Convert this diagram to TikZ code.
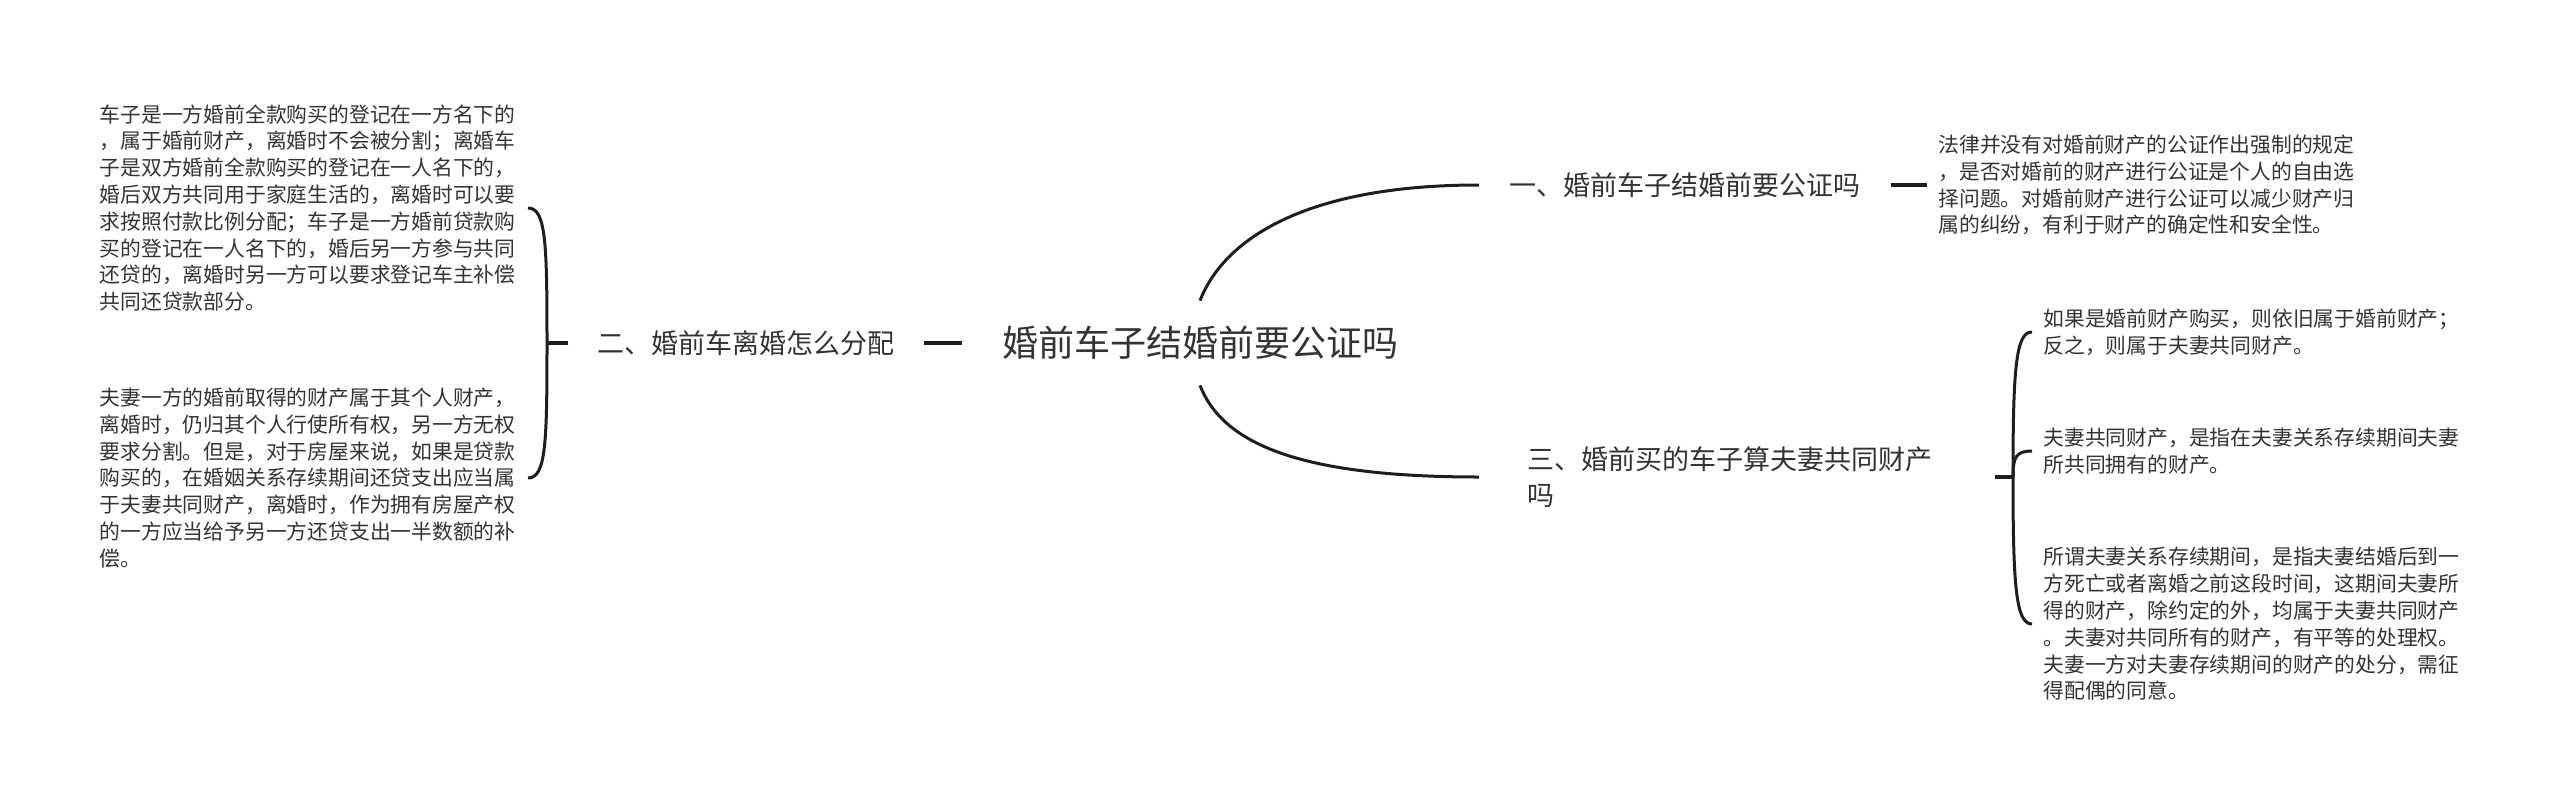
\documentclass[tikz,border=0pt]{standalone}
\usepackage{fontspec}
\setmainfont{Noto Sans CJK SC}
\usepackage{tikz}
\definecolor{inkc}{HTML}{333333}
\definecolor{linec}{HTML}{1E1E1E}

\begin{document}
\begin{tikzpicture}[x=0.5pt, y=-0.5pt,
  link/.style={linec, line width=1.5pt},
  tick/.style={linec, line width=2pt},
  topic/.style={inner xsep=15pt, inner ysep=0pt, text=inkc, align=left,
    font=\fontsize{13.5pt}{18pt}\selectfont},
  note/.style={inner xsep=5.5pt, inner ysep=0pt, text=inkc, align=left,
    font=\fontsize{10.4pt}{13.4pt}\selectfont}]
  \useasboundingbox (0,0) rectangle (2560,804);

  % centre
  \node[inner xsep=20pt, inner ysep=0pt, minimum height=42pt, text=inkc,
    font=\fontsize{18pt}{22pt}\selectfont] (root) at (1200,343) {婚前车子结婚前要公证吗};

  % branches
  \node[topic, anchor=west] (b1) at (1479,185) {一、婚前车子结婚前要公证吗};
  \node[topic, anchor=east, inner xsep=14.5pt] (b2) at (924,343) {二、婚前车离婚怎么分配};
  \node[topic, anchor=west, inner xsep=24pt] (b3) at (1479,477) {三、婚前买的车子算夫妻共同财产\\吗};
  \coordinate (jl) at (547,343);
  \coordinate (jr) at (2013,477);

  % notes
  \node[note, anchor=west] (leaf1) at (1927,185) {法律并没有对婚前财产的公证作出强制的规定\\，是否对婚前的财产进行公证是个人的自由选\\择问题。对婚前财产进行公证可以减少财产归\\属的纠纷，有利于财产的确定性和安全性。};
  \node[note, anchor=east, inner xsep=6pt] (l1) at (528,208) {车子是一方婚前全款购买的登记在一方名下的\\，属于婚前财产，离婚时不会被分割；离婚车\\子是双方婚前全款购买的登记在一人名下的，\\婚后双方共同用于家庭生活的，离婚时可以要\\求按照付款比例分配；车子是一方婚前贷款购\\买的登记在一人名下的，婚后另一方参与共同\\还贷的，离婚时另一方可以要求登记车主补偿\\共同还贷款部分。};
  \node[note, anchor=east, inner xsep=6pt] (l2) at (528,478) {夫妻一方的婚前取得的财产属于其个人财产，\\离婚时，仍归其个人行使所有权，另一方无权\\要求分割。但是，对于房屋来说，如果是贷款\\购买的，在婚姻关系存续期间还贷支出应当属\\于夫妻共同财产，离婚时，作为拥有房屋产权\\的一方应当给予另一方还贷支出一半数额的补\\偿。};
  \node[note, anchor=west] (r1) at (2032,332) {如果是婚前财产购买，则依旧属于婚前财产；\\反之，则属于夫妻共同财产。};
  \node[note, anchor=west] (r2) at (2032,451) {夫妻共同财产，是指在夫妻关系存续期间夫妻\\所共同拥有的财产。};
  \node[note, anchor=west] (r3) at (2032,624) {所谓夫妻关系存续期间，是指夫妻结婚后到一\\方死亡或者离婚之前这段时间，这期间夫妻所\\得的财产，除约定的外，均属于夫妻共同财产\\。夫妻对共同所有的财产，有平等的处理权。\\夫妻一方对夫妻存续期间的财产的处分，需征\\得配偶的同意。};

  % connectors
  \draw[link] (root.north) .. controls +(23,-59) and +(-178,0) .. (b1.west);
  \draw[link] (root.south) .. controls +(23,59) and +(-178,0) .. (b3.west);
  \draw[tick] (root.west) -- (b2.east);
  \draw[tick] (b2.west) -- (jl);
  \draw[link] (jl) .. controls +(0,-100) and +(18,0) .. (l1.east);
  \draw[link] (jl) .. controls +(0,100) and +(18,0) .. (l2.east);
  \draw[tick] (b1.east) -- (leaf1.west);
  \draw[tick] ([xshift=7pt]b3.east) -- (jr);
  \draw[link] (jr) .. controls +(0,-110) and +(-16,0) .. (r1.west);
  \draw[link] (jr) .. controls +(0,-20) and +(-16,0) .. (r2.west);
  \draw[link] (jr) .. controls +(0,110) and +(-16,0) .. (r3.west);
\end{tikzpicture}
\end{document}
